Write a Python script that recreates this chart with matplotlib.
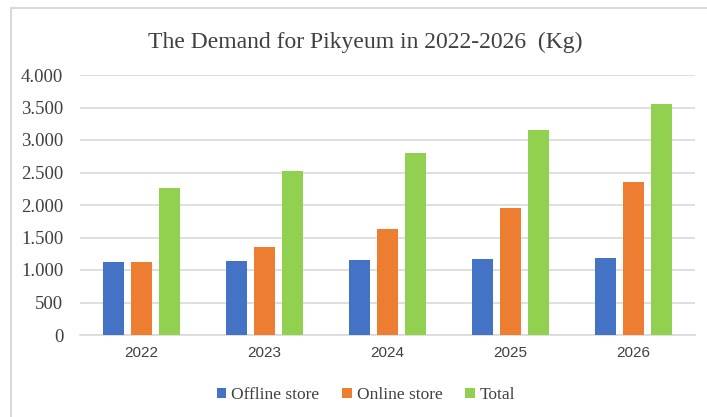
import matplotlib.pyplot as plt
import numpy as np
from matplotlib.patches import Rectangle
from matplotlib.ticker import FuncFormatter

# === DATA ===
years = ["2022", "2023", "2024", "2025", "2026"]
offline = [1128, 1144, 1154, 1169, 1190]
online = [1128, 1349, 1631, 1959, 2354]
total = [2267, 2523, 2795, 3154, 3554]

series_names = ["Offline store", "Online store", "Total"]
colors = ["#4472C4", "#ED7D31", "#92D050"]

fig = plt.figure(figsize=(7.07, 4.17), dpi=100)
ax = fig.add_axes([80 / 707, 1 - 335 / 417, 615 / 707, 260 / 417])

# chart frame (only left/top edges visible in the reference)
fig.patches.append(Rectangle((11 / 707, -0.1), 1.2, 1 - 8 / 417 + 0.1,
                             transform=fig.transFigure, fill=False,
                             edgecolor="#D9D9D9", linewidth=1.5))

x = np.arange(len(years))
w = 0.17
step = 0.224
for i, (vals, name, c) in enumerate(zip([offline, online, total], series_names, colors)):
    ax.bar(x + (i - 1) * step, vals, width=w, color=c, label=name, zorder=3)

ax.set_xlim(-0.5, len(years) - 0.5)
ax.set_ylim(0, 4000)
ax.set_yticks(range(0, 4001, 500))
ax.yaxis.set_major_formatter(FuncFormatter(lambda v, p: f"{int(v):,}".replace(",", ".")))
ax.set_xticks(x)
ax.set_xticklabels(years)

ax.grid(axis="y", color="#D9D9D9", linewidth=1.2, zorder=0)
for s in ["top", "right", "left"]:
    ax.spines[s].set_visible(False)
ax.spines["bottom"].set_color("#D9D9D9")
ax.spines["bottom"].set_linewidth(1.2)
ax.tick_params(length=0)
ax.tick_params(axis="y", pad=12)
ax.tick_params(axis="x", pad=8)
for lbl in ax.get_yticklabels():
    lbl.set_fontfamily("Liberation Serif")
    lbl.set_fontsize(13.5)
    lbl.set_color("#404040")
for lbl in ax.get_xticklabels():
    lbl.set_fontfamily("Liberation Sans")
    lbl.set_fontsize(11)
    lbl.set_color("#404040")

fig.text(365 / 707, 1 - 42 / 417, "The Demand for Pikyeum in 2022-2026  (Kg)",
         ha="center", va="center", fontsize=17, family="Liberation Serif", color="#404040")

leg = fig.legend(loc="center", bbox_to_anchor=(366 / 707, 1 - 395 / 417), ncol=3,
                 frameon=False, prop={"family": "Liberation Serif", "size": 12.5},
                 handlelength=0.55, handleheight=0.55, handletextpad=0.3, columnspacing=1.3)
for t in leg.get_texts():
    t.set_color("#404040")

fig.savefig("out.png", dpi=100)
